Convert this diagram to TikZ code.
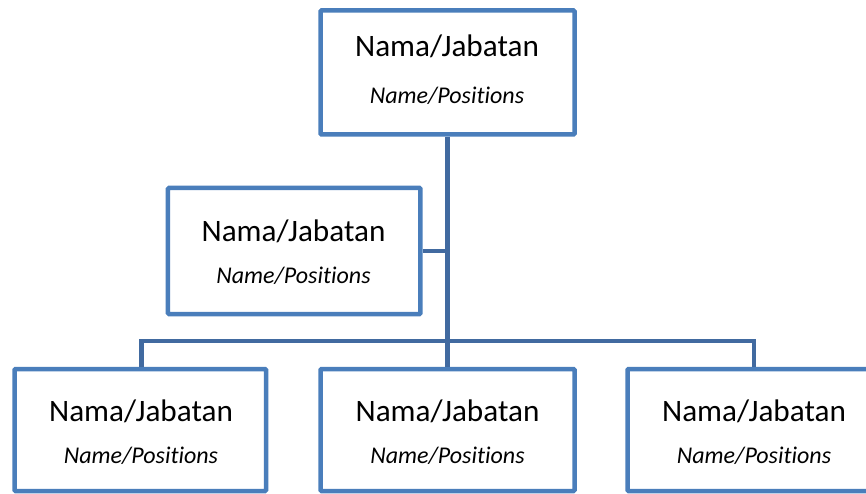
\documentclass[tikz,border=0pt]{standalone}
\usepackage{fontspec}
\setmainfont{Carlito}[Ligatures=NoCommon]
\definecolor{boxblue}{RGB}{74,126,187}
\definecolor{linkblue}{RGB}{65,106,160}
\tikzset{
  orgbox/.style={draw=boxblue, line width=4.5pt, fill=white, rounded corners=1pt, inner sep=0pt},
  link/.style={draw=linkblue, line width=4.5pt},
  titletext/.style={font=\fontsize{31.2}{36}\selectfont, anchor=base, inner sep=0pt},
  subtext/.style={font=\fontsize{24}{28}\selectfont\itshape, anchor=base, inner sep=0pt},
}
\begin{document}
\begin{tikzpicture}[x=1pt,y=-1pt]
\useasboundingbox (0,0) rectangle (866,494);
\clip (0,0) rectangle (866,494);
% boxes
\node[orgbox, minimum width=254pt, minimum height=124pt] (top) at (447.5,72.5) {};
\node[orgbox, minimum width=252.5pt, minimum height=126pt] (mid) at (294.2,251) {};
\node[orgbox, minimum width=251.5pt, minimum height=122pt] (bl) at (140.3,430) {};
\node[orgbox, minimum width=254pt, minimum height=122pt] (bm) at (447.5,430) {};
\node[orgbox, minimum width=254pt, minimum height=122pt] (br) at (754.5,430) {};
% connector points
\coordinate (bus) at (447.7,341);
\coordinate (busL) at (141.7,341);
\coordinate (busR) at (754,341);
\coordinate (midj) at (447.7,251);
% connectors
\draw[link] (top.south -| bus) -- (bm.north -| bus);
\draw[link] (mid.east) -- (midj);
\draw[link] (bl.north -| busL) -- (busL) -- (busR) -- (br.north -| busR);
% texts
\node[titletext] (t1) at (447,57) {Nama/Jabatan};
\node[subtext] (s1) at (447,104) {Name/Positions};
\node[titletext] (t2) at (293.5,241.5) {Nama/Jabatan};
\node[subtext] (s2) at (293.5,283) {Name/Positions};
\node[titletext] (t3) at (141,421.5) {Nama/Jabatan};
\node[subtext] (s3) at (141,463) {Name/Positions};
\node[titletext] (t4) at (447.5,421.5) {Nama/Jabatan};
\node[subtext] (s4) at (447.5,463) {Name/Positions};
\node[titletext] (t5) at (754,421.5) {Nama/Jabatan};
\node[subtext] (s5) at (754,463) {Name/Positions};
\end{tikzpicture}
\end{document}
